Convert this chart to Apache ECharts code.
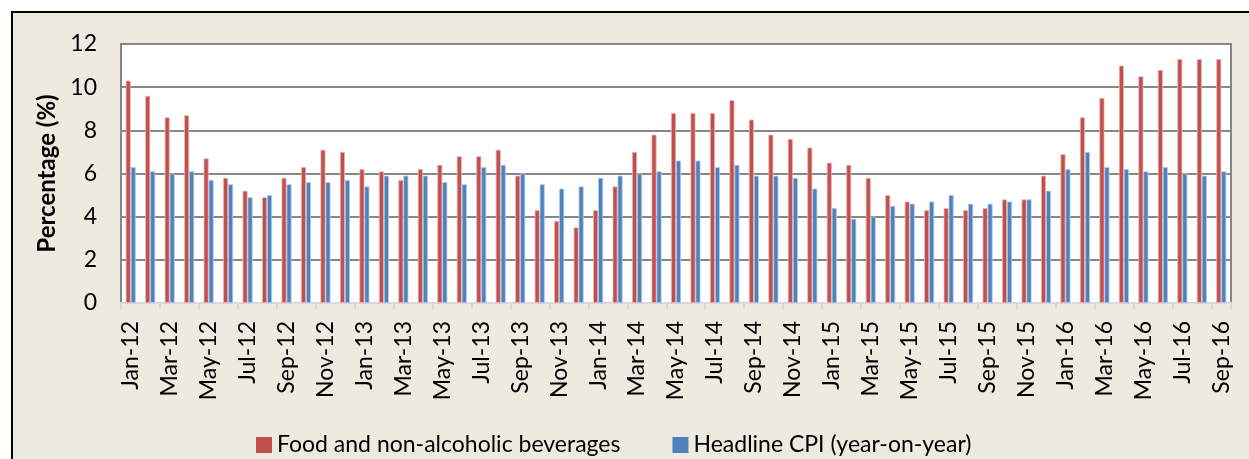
<!DOCTYPE html>
<html>
<head>
<meta charset="utf-8">
<script src="https://cdn.jsdelivr.net/npm/echarts@6/dist/echarts.min.js"></script>
<style>
html,body{margin:0;padding:0;background:#ffffff;}
#c{width:1249px;height:459px;}
</style>
</head>
<body>
<div id="c"></div>
<script>
const categories = ["Jan-12","Feb-12","Mar-12","Apr-12","May-12","Jun-12","Jul-12","Aug-12","Sep-12","Oct-12","Nov-12","Dec-12",
"Jan-13","Feb-13","Mar-13","Apr-13","May-13","Jun-13","Jul-13","Aug-13","Sep-13","Oct-13","Nov-13","Dec-13",
"Jan-14","Feb-14","Mar-14","Apr-14","May-14","Jun-14","Jul-14","Aug-14","Sep-14","Oct-14","Nov-14","Dec-14",
"Jan-15","Feb-15","Mar-15","Apr-15","May-15","Jun-15","Jul-15","Aug-15","Sep-15","Oct-15","Nov-15","Dec-15",
"Jan-16","Feb-16","Mar-16","Apr-16","May-16","Jun-16","Jul-16","Aug-16","Sep-16"];
const foodValues = [10.3,9.6,8.6,8.7,6.7,5.8,5.2,4.9,5.8,6.3,7.1,7.0,
6.2,6.1,5.7,6.2,6.4,6.8,6.8,7.1,5.9,4.3,3.8,3.5,
4.3,5.4,7.0,7.8,8.8,8.8,8.8,9.4,8.5,7.8,7.6,7.2,
6.5,6.4,5.8,5.0,4.7,4.3,4.4,4.3,4.4,4.8,4.8,5.9,
6.9,8.6,9.5,11.0,10.5,10.8,11.3,11.3,11.3];
const cpiValues = [6.3,6.1,6.0,6.1,5.7,5.5,4.9,5.0,5.5,5.6,5.6,5.7,
5.4,5.9,5.9,5.9,5.6,5.5,6.3,6.4,6.0,5.5,5.3,5.4,
5.8,5.9,6.0,6.1,6.6,6.6,6.3,6.4,5.9,5.9,5.8,5.3,
4.4,3.9,4.0,4.5,4.6,4.7,5.0,4.6,4.6,4.7,4.8,5.2,
6.2,7.0,6.3,6.2,6.1,6.3,6.0,5.9,6.1];
const seriesNames = ["Food and non-alcoholic beverages","Headline CPI (year-on-year)"];
const yTicks = {min:0,max:12,interval:2};

const FONT = 'Lato';
const chart = echarts.init(document.getElementById('c'), null, {renderer:'canvas'});
chart.setOption({
  backgroundColor:'#ffffff',
  animation:false,
  textStyle:{fontFamily:FONT},
  graphic:[{
    type:'rect', z:-10, silent:true,
    shape:{x:12,y:12,width:1260,height:470},
    style:{fill:'#EDEAE0',stroke:'#000000',lineWidth:2}
  }],
  grid:{left:121,top:44,right:18,bottom:156,show:true,backgroundColor:'#ffffff',borderColor:'#868686',borderWidth:2},
  legend:{
    left:251, top:428, itemWidth:16, itemHeight:16, itemGap:52,
    icon:'rect',
    itemStyle:{borderWidth:0},
    textStyle:{fontFamily:FONT,fontSize:23,color:'#000000',lineHeight:24},
    data:seriesNames
  },
  xAxis:{
    type:'category', data:categories,
    axisLine:{show:true,lineStyle:{color:'#D9D9D9',width:2}},
    axisTick:{show:true,interval:1,length:6,lineStyle:{color:'#D9D9D9',width:2}},
    axisLabel:{interval:1,rotate:90,margin:18,fontFamily:FONT,fontSize:23,color:'#000000'}
  },
  yAxis:{
    type:'value', min:yTicks.min, max:yTicks.max, interval:yTicks.interval,
    name:'Percentage (%)', nameLocation:'middle', nameGap:62,
    nameTextStyle:{fontFamily:FONT,fontSize:24,fontWeight:'bold',color:'#000000'},
    axisLine:{show:true,lineStyle:{color:'#868686',width:2}},
    axisTick:{show:false},
    splitLine:{show:true,lineStyle:{color:'#878787',width:2}},
    axisLabel:{margin:24,fontFamily:FONT,fontSize:23,color:'#000000'}
  },
  series:[
    {name:seriesNames[0],type:'bar',data:foodValues,barWidth:5,barGap:'0%',
     itemStyle:{color:'#C0504D',borderColor:'#E8B4B3',borderWidth:0.8}},
    {name:seriesNames[1],type:'bar',data:cpiValues,barWidth:5,barGap:'0%',
     itemStyle:{color:'#4F81BD',borderColor:'#B4C8E3',borderWidth:0.8}}
  ]
});
</script>
</body>
</html>
